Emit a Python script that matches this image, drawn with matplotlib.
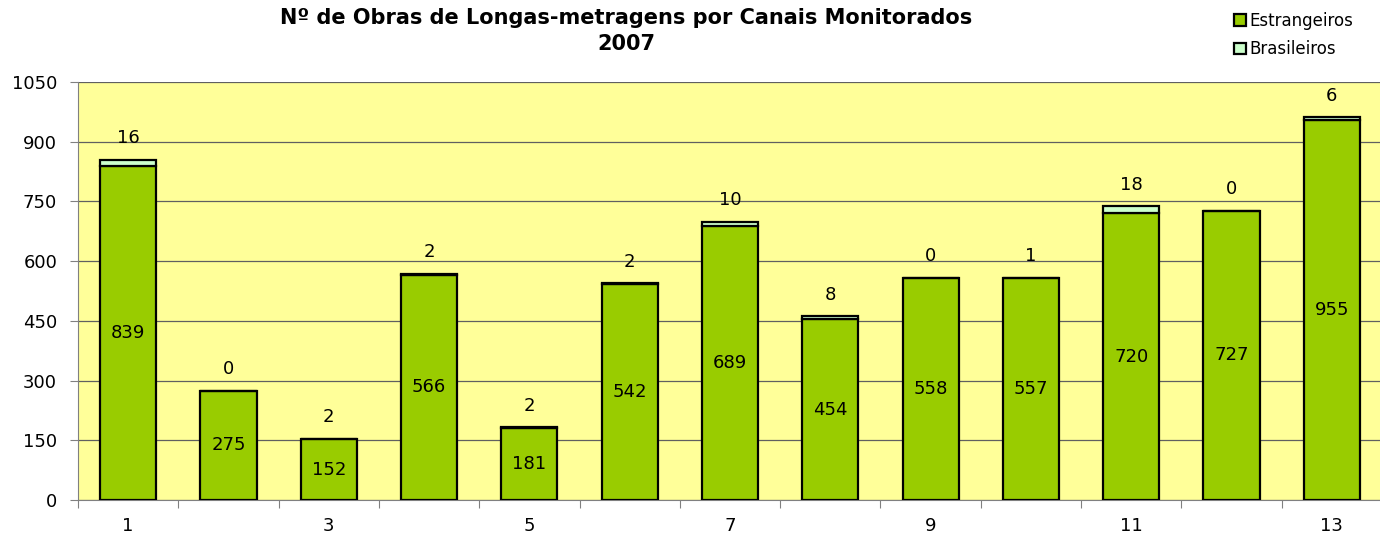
import numpy as np
import matplotlib.pyplot as plt

canais = np.arange(1, 14)
estrangeiros = [839, 275, 152, 566, 181, 542, 689, 454, 558, 557, 720, 727, 955]
brasileiros = [16, 0, 2, 2, 2, 2, 10, 8, 0, 1, 18, 0, 6]

fig = plt.figure(figsize=(13.8, 5.34), dpi=100)
ax = fig.add_axes([78 / 1380, 1 - 500 / 534, 1304 / 1380, 418 / 534])
ax.set_facecolor('#FFFF99')

b1 = ax.bar(canais, estrangeiros, width=0.56, color='#99CC00', edgecolor='black',
            linewidth=1.6, label='Estrangeiros', zorder=3)
b2 = ax.bar(canais, brasileiros, width=0.56, bottom=estrangeiros, color='#CCFFCC',
            edgecolor='black', linewidth=1.6, label='Brasileiros', zorder=3)

for x, e, b in zip(canais, estrangeiros, brasileiros):
    ax.text(x, e / 2, str(e), ha='center', va='center', fontsize=13, zorder=4)
    ax.annotate(str(b), (x, e + b), xytext=(0, 9), textcoords='offset points',
                ha='center', va='bottom', fontsize=13, zorder=4)

ax.set_xlim(0.5, 13.5)
ax.set_ylim(0, 1050)
ax.set_yticks(np.arange(0, 1051, 150))
ax.yaxis.grid(True, color='#606060', linewidth=0.9, zorder=1)
ax.set_xticks(np.arange(0.5, 13.6, 1))
ax.set_xticklabels([])
ax.set_xticks(canais[::2], minor=True)
ax.set_xticklabels([str(c) for c in canais[::2]], minor=True)
ax.tick_params(axis='x', which='minor', length=0, labelsize=13, pad=12)
ax.tick_params(axis='x', which='major', length=6, color='#808080')
ax.tick_params(axis='y', length=6, color='#808080', labelsize=13, pad=9)
for s in ['top', 'right']:
    ax.spines[s].set_visible(False)
ax.spines['left'].set_color('#808080')
ax.spines['bottom'].set_color('#808080')

fig.text(626 / 1380, 1 - 31 / 534, 'Nº de Obras de Longas-metragens por Canais Monitorados\n2007',
         ha='center', va='center', fontsize=15, fontweight='bold', linespacing=1.35)

fig.legend(handles=[b1, b2], loc='upper left', bbox_to_anchor=(1234 / 1380, 1 - 12 / 534),
           frameon=False, fontsize=12, handlelength=0.72, handleheight=0.72,
           handletextpad=0.2, labelspacing=0.62, borderpad=0, borderaxespad=0)

fig.savefig('out.png', dpi=100)
